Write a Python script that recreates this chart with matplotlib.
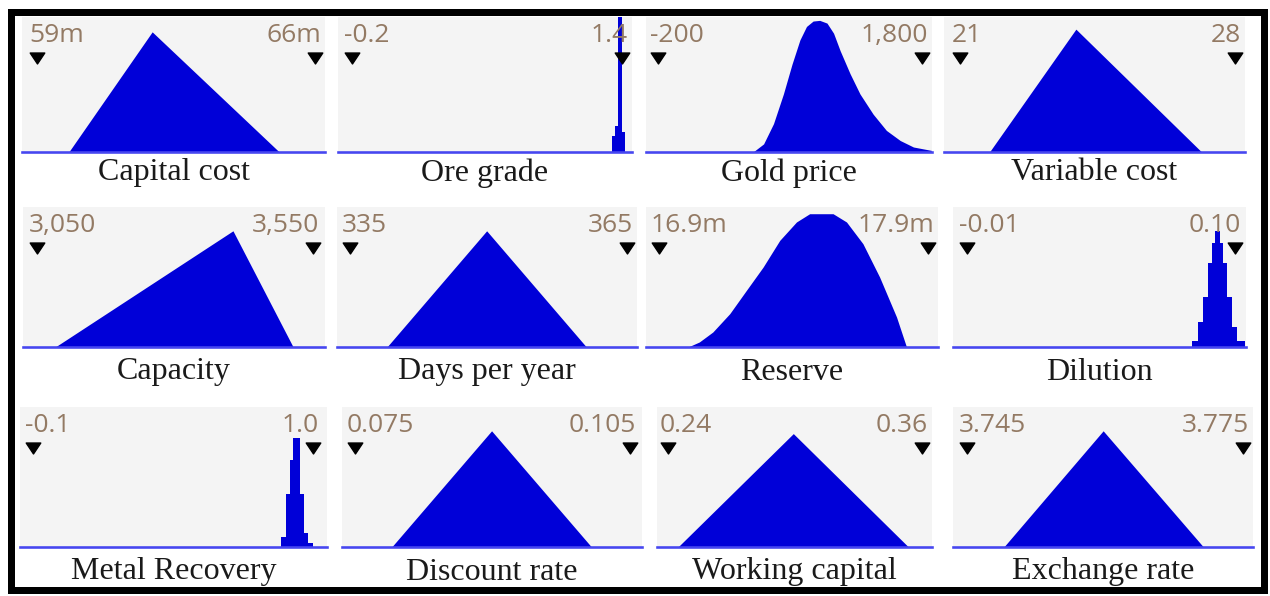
import matplotlib
matplotlib.use("Agg")
import matplotlib.pyplot as plt
from matplotlib.patches import Rectangle
from matplotlib.path import Path
from matplotlib.transforms import blended_transform_factory

# ---------------- data ----------------
titles = ["Capital cost", "Ore grade", "Gold price", "Variable cost",
          "Capacity", "Days per year", "Reserve", "Dilution",
          "Metal Recovery", "Discount rate", "Working capital", "Exchange rate"]
min_labels = ["59m", "-0.2", "-200", "21", "3,050", "335", "16.9m", "-0.01",
              "-0.1", "0.075", "0.24", "3.745"]
max_labels = ["66m", "1.4", "1,800", "28", "3,550", "365", "17.9m", "0.10",
              "1.0", "0.105", "0.36", "3.775"]
min_values = [59, -0.2, -200, 21, 3050, 335, 16.9, -0.01, -0.1, 0.075, 0.24, 3.745]
max_values = [66, 1.4, 1800, 28, 3550, 365, 17.9, 0.10, 1.0, 0.105, 0.36, 3.775]

# triangular shapes: (left foot, peak, right foot) and relative heights
capital_cost_x = [59.8, 61.9, 65.1]
capital_cost_y = [0, 0.89, 0]
variable_cost_x = [21.75, 23.95, 27.15]
variable_cost_y = [0, 0.91, 0]
capacity_x = [3083, 3405, 3514]
capacity_y = [0, 0.83, 0]
days_x = [339.0, 349.8, 360.6]
days_y = [0, 0.83, 0]
discount_x = [0.079, 0.0899, 0.1008]
discount_y = [0, 0.83, 0]
working_x = [0.2447, 0.2992, 0.3536]
working_y = [0, 0.81, 0]
exchange_x = [3.749, 3.7598, 3.7707]
exchange_y = [0, 0.83, 0]

# smooth shapes
gold_x = [520, 600, 675, 750, 815, 875, 925, 975, 1025, 1080, 1130, 1180,
          1255, 1330, 1430, 1530, 1635, 1735, 1870]
gold_y = [0, .06, .21, .43, .65, .83, .93, .97, .975, .955, .88, .75,
          .58, .43, .28, .16, .085, .037, .012]
reserve_x = [17.008, 17.05, 17.10, 17.163, 17.225, 17.287, 17.349, 17.411,
             17.46, 17.547, 17.597, 17.658, 17.72, 17.783, 17.82]
reserve_y = [0, .036, .107, .238, .405, .571, .762, .893,
             .952, .952, .893, .738, .50, .214, 0]

# histogram shapes: bin edges and heights
ore_edges = [1.34, 1.36, 1.378, 1.398, 1.42]
ore_heights = [0.12, 0.19, 1.0, 0.15]
dilution_edges = [0.0822, 0.085, 0.087, 0.0891, 0.0905, 0.0918, 0.0939,
                  0.0952, 0.0969, 0.0987, 0.1007, 0.1041]
dilution_heights = [0.04, 0.18, 0.36, 0.60, 0.74, 0.83, 0.74, 0.60, 0.36, 0.14, 0.04]
metal_edges = [0.876, 0.893, 0.911, 0.922, 0.948, 0.964, 0.981, 1.0]
metal_heights = [0.07, 0.38, 0.62, 0.78, 0.38, 0.10, 0.03]

shapes = [("tri", capital_cost_x, capital_cost_y),
          ("hist", ore_edges, ore_heights),
          ("smooth", gold_x, gold_y),
          ("tri", variable_cost_x, variable_cost_y),
          ("tri", capacity_x, capacity_y),
          ("tri", days_x, days_y),
          ("smooth", reserve_x, reserve_y),
          ("hist", dilution_edges, dilution_heights),
          ("hist", metal_edges, metal_heights),
          ("tri", discount_x, discount_y),
          ("tri", working_x, working_y),
          ("tri", exchange_x, exchange_y)]

# ---------------- layout (pixels) ----------------
W, H = 1270, 596
row_top = [17, 207, 407]
row_base = [152, 347, 547]
row_title = [173, 372, 572]
panel_lr = [(22, 325), (338, 632), (646, 932), (944, 1245),
            (23, 325), (337, 637), (646, 938), (953, 1246),
            (20, 327), (342, 642), (657, 932), (953, 1253)]
tri_px = [(37, 315), (352, 622), (658, 922), (960, 1235),
          (37, 313), (350, 627), (659, 928), (967, 1235),
          (33, 313), (355, 630), (668, 922), (967, 1243)]

fill_color = "#0000d8"
base_color = "#4646f0"
bg_color = "#f4f4f4"
num_color = "#937a64"
px = 0.72  # points per pixel at dpi=100

fig = plt.figure(figsize=(W / 100, H / 100), dpi=100)
fig.patch.set_facecolor("white")

tri_marker = Path([(-1, 0.75), (1, 0.75), (0, -0.75), (-1, 0.75)],
                  [Path.MOVETO, Path.LINETO, Path.LINETO, Path.CLOSEPOLY])

for i in range(12):
    r = i // 4
    left, right = panel_lr[i]
    top, base = row_top[r], row_base[r]
    ax = fig.add_axes([left / W, 1 - base / H, (right - left) / W, (base - top) / H])
    ax.set_facecolor(bg_color)
    for s in ax.spines.values():
        s.set_visible(False)
    ax.set_xticks([])
    ax.set_yticks([])

    vmin, vmax = min_values[i], max_values[i]
    tl, tr = tri_px[i]
    sc = (vmax - vmin) / (tr - tl)
    ax.set_xlim(vmin - (tl - left) * sc, vmax + (right - tr) * sc)
    ax.set_ylim(0, 1)

    kind, xs, ys = shapes[i]
    if kind == "hist":
        ax.stairs(ys, xs, fill=True, color=fill_color, lw=0)
    else:
        ax.fill_between(xs, ys, 0, color=fill_color, lw=0)

    ax.axhline(0, color=base_color, lw=2.6 * px, clip_on=False, zorder=3)

    bt = blended_transform_factory(ax.transData, ax.transAxes)
    ph = base - top
    ty = 1 - 40.5 / ph
    ax.plot([vmin, vmax], [ty, ty], ls="none", marker=tri_marker,
            markersize=10.5, color="black", transform=bt, zorder=4)
    ax.annotate(min_labels[i], xy=(vmin, 1), xycoords=bt,
                xytext=(-8 * px, -25 * px), textcoords="offset points",
                ha="left", va="baseline", fontsize=19, color=num_color,
                family="Open Sans", zorder=2)
    ax.annotate(max_labels[i], xy=(vmax, 1), xycoords=bt,
                xytext=(6 * px, -25 * px), textcoords="offset points",
                ha="right", va="baseline", fontsize=19, color=num_color,
                family="Open Sans", zorder=2)

    fig.text((left + right) / 2 / W, 1 - row_title[r] / H, titles[i],
             ha="center", va="center", fontsize=23, color="#1a1a1a",
             family="Liberation Serif")

# outer frame
fig.patches.append(Rectangle((11 / W, 1 - 590 / H), (1264 - 11) / W, (590 - 11.5) / H,
                             transform=fig.transFigure, fill=False,
                             edgecolor="black", lw=7 * px))

fig.savefig("out.png", dpi=100, facecolor="white")
